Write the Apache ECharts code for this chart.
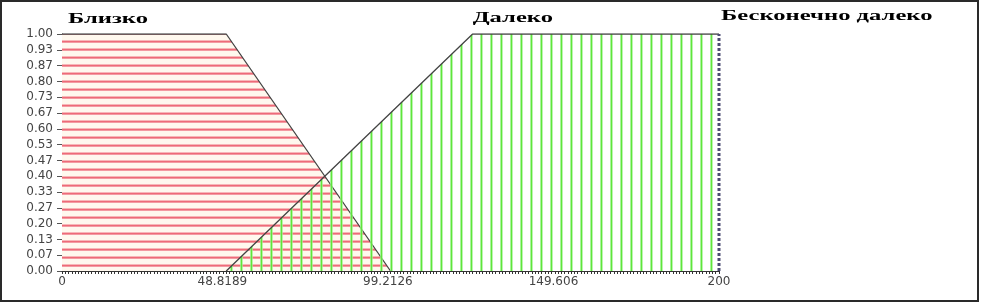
<!DOCTYPE html>
<html>
<head>
<meta charset="utf-8">
<script src="https://cdn.jsdelivr.net/npm/echarts@6/dist/echarts.min.js"></script>
<style>html,body{margin:0;padding:0;background:#fff}#c{width:981px;height:302px}</style>
</head>
<body>
<div id="c"></div>
<script>
// ---- data ----
const setNames = ['Близко', 'Далеко', 'Бесконечно далеко'];
const blizkoX = [0, 50, 100];
const blizkoY = [1, 1, 0];
const dalekoX = [50, 125, 200];
const dalekoY = [0, 1, 1];
const infX = [200, 200];
const infY = [0, 1];
const xTickLabels = [0, 48.8189, 99.2126, 149.606, 200];
const yTickLabels = [0, 1/15, 2/15, 3/15, 4/15, 5/15, 6/15, 7/15, 8/15, 9/15, 10/15, 11/15, 12/15, 13/15, 14/15, 1];
// label anchor = start of each set's core
const labelAnchorX = [0, 125, 200];

function zip(xs, ys){ return xs.map((x,i)=>[x, ys[i]]); }

function makePattern(w, h, bg, draw){
  const c = document.createElement('canvas');
  c.width = w; c.height = h;
  const g = c.getContext('2d');
  if (bg){ g.fillStyle = bg; g.fillRect(0,0,w,h); }
  draw(g);
  return c;
}
const redPat = makePattern(1, 8, '#fff8ee', g => {
  g.fillStyle = '#f7b7b9'; g.fillRect(0,0,1,1);
  g.fillStyle = '#ee6b78'; g.fillRect(0,1,1,1);
  g.fillStyle = '#f39aa2'; g.fillRect(0,2,1,1);
});
const greenPat = makePattern(10, 1, null, g => {
  g.fillStyle = 'rgba(150,240,130,0.8)'; g.fillRect(0,0,1,1);
  g.fillStyle = '#5ee63c'; g.fillRect(1,0,1,1);
  g.fillStyle = 'rgba(160,240,140,0.7)'; g.fillRect(2,0,1,1);
});

const chart = echarts.init(document.getElementById('c'), null, {renderer:'canvas'});
const labelFont = 'DejaVu Sans';
chart.setOption({
  animation: false,
  grid: {left: 62, right: 262, top: 34, bottom: 31},
  xAxis: {
    type: 'value', min: 0, max: 200, interval: 10,
    axisLine: {show: true, onZero: false, lineStyle: {color: '#333', width: 1}},
    axisTick: {show: true, inside: false, length: 3, lineStyle: {color: '#333', width: 1}},
    minorTick: {show: true, splitNumber: 10, length: 3, lineStyle: {color: '#333', width: 1}},
    axisLabel: {customValues: xTickLabels, formatter: v => String(v), color: '#444', fontFamily: labelFont, fontSize: 12, margin: 5},
    splitLine: {show: false},
    z: 10
  },
  yAxis: {
    type: 'value', min: 0, max: 1,
    axisLine: {show: true, lineStyle: {color: '#444', width: 1}},
    axisTick: {show: true, length: 5, customValues: yTickLabels, lineStyle: {color: '#555'}},
    axisLabel: {customValues: yTickLabels, formatter: v => v.toFixed(2), color: '#444', fontFamily: labelFont, fontSize: 12, margin: 9},
    splitLine: {show: false}
  },
  series: [
    {
      name: setNames[0], type: 'line', data: zip(blizkoX, blizkoY), symbol: 'none', z: 2,
      lineStyle: {color: '#444', width: 1.3},
      areaStyle: {color: {image: redPat, repeat: 'repeat'}, opacity: 1}
    },
    {
      name: setNames[1], type: 'line', data: zip(dalekoX, dalekoY), symbol: 'none', z: 3,
      lineStyle: {color: '#444', width: 1.3},
      areaStyle: {color: {image: greenPat, repeat: 'repeat'}, opacity: 1}
    },
    {
      name: setNames[2], type: 'line', data: zip(infX, infY), symbol: 'none', z: 4,
      lineStyle: {color: '#4b4b72', width: 3, type: [3, 2]}
    }
  ]
});

// titles placed at the start of each set's core, read through the chart's scale
const ctx = document.createElement('canvas').getContext('2d');
const titleFont = 'bold 15px "Liberation Serif"';
ctx.font = titleFont;
const sx = 80 / ctx.measureText(setNames[0]).width;
const baseY = [27, 26, 24];
const dx = [6, 0, 2];
const graphics = setNames.map((name, i) => {
  const p = chart.convertToPixel({gridIndex: 0}, [labelAnchorX[i], 1]);
  return {
    type: 'text', x: p[0] + dx[i], y: baseY[i], scaleX: sx, scaleY: 1,
    style: {text: name, font: titleFont, fill: '#000', verticalAlign: 'bottom', align: 'left'}
  };
});
graphics.push({
  type: 'rect', shape: {x: 1, y: 1, width: 977, height: 300},
  style: {fill: null, stroke: '#2a2a2a', lineWidth: 2}, z: 100
});
chart.setOption({graphic: graphics});
</script>
</body>
</html>
